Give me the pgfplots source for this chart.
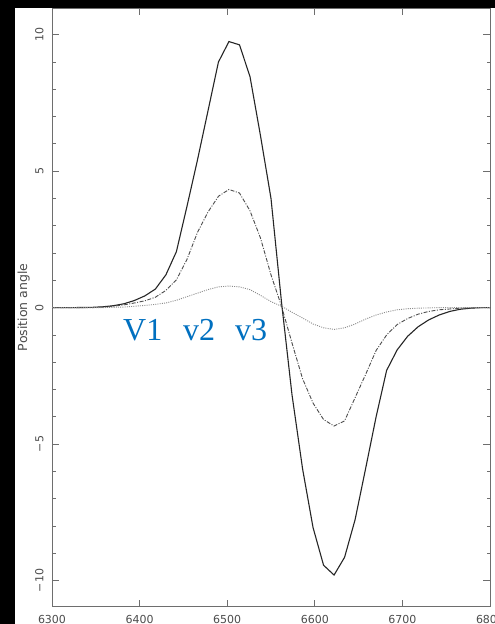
\documentclass[border=0pt]{standalone}
\usepackage{pgfplots}
\pgfplotsset{compat=1.18}
\usepackage{pgfplotstable}
\usepackage{fontspec}
\setmainfont{DejaVu Sans}
\newfontfamily\labelserif{Liberation Serif}
\definecolor{labelblue}{RGB}{0,112,192}
\definecolor{axisgray}{RGB}{110,110,110}

% Position angle against wavelength for the three velocity models
\pgfplotstableread{
x y
6300 0
6322 0
6334 0.005
6346 0.01
6358 0.03
6370 0.07
6382 0.14
6394 0.26
6406 0.43
6418 0.68
6430 1.2
6442 2.05
6454 3.7
6466 5.4
6478 7.2
6490 9.0
6502 9.75
6514 9.63
6526 8.47
6538 6.3
6550 4.0
6562 0.2
6574 -3.2
6586 -5.9
6598 -8.06
6610 -9.44
6622 -9.8
6634 -9.15
6646 -7.77
6658 -5.9
6670 -4.0
6682 -2.3
6694 -1.55
6706 -1.05
6718 -0.7
6730 -0.45
6742 -0.27
6754 -0.14
6766 -0.06
6778 -0.02
6790 0
6800 0
}\vone

\pgfplotstableread{
x y
6300 0
6346 0
6358 0.02
6370 0.05
6382 0.1
6394 0.17
6406 0.25
6418 0.38
6430 0.63
6442 1.02
6454 1.76
6466 2.75
6478 3.5
6490 4.08
6502 4.33
6514 4.2
6526 3.55
6538 2.55
6550 1.2
6562 0.05
6574 -1.3
6586 -2.6
6598 -3.5
6610 -4.1
6622 -4.34
6634 -4.15
6646 -3.3
6658 -2.45
6670 -1.57
6682 -1.0
6694 -0.62
6706 -0.4
6718 -0.24
6730 -0.14
6742 -0.08
6754 -0.05
6766 -0.02
6778 -0.01
6790 0
6800 0
}\vtwo

\pgfplotstableread{
x y
6300 0
6358 0
6370 0.01
6382 0.02
6394 0.05
6406 0.08
6418 0.12
6430 0.17
6442 0.27
6454 0.4
6466 0.53
6478 0.66
6490 0.76
6502 0.79
6514 0.76
6526 0.66
6538 0.45
6550 0.22
6562 0.05
6574 -0.17
6586 -0.38
6598 -0.6
6610 -0.74
6622 -0.8
6634 -0.74
6646 -0.6
6658 -0.42
6670 -0.27
6682 -0.16
6694 -0.08
6706 -0.04
6718 -0.02
6730 -0.01
6742 0
6800 0
}\vthree

\begin{document}
\begin{tikzpicture}[x=1pt,y=1pt]
\useasboundingbox (0,0) rectangle (495,624);
\clip (0,0) rectangle (495,624);
\fill[black] (0,0) rectangle (495,624);
\fill[white] (15,0) rectangle (495,616);
\begin{axis}[
  at={(52pt,17.3pt)}, anchor=south west,
  scale only axis, width=438pt, height=598.7pt,
  xmin=6300, xmax=6800, ymin=-10.96, ymax=10.98,
  xtick={6300,6400,6500,6600,6700,6800},
  xticklabels={6300,6400,6500,6600,6700,6800},
  ytick={-10,-5,0,5,10},
  yticklabels={−10,−5,0,5,10},
  minor ytick={-10,...,10},
  tick align=inside,
  major tick length=7pt, minor tick length=3.5pt,
  axis line style={axisgray, line width=0.9pt},
  every tick/.style={axisgray, line width=0.8pt},
  every minor tick/.style={axisgray, line width=0.8pt},
  tick label style={font=\fontsize{11}{13}\selectfont, text=black!70},
  xticklabel shift=5pt,
  yticklabel shift=5pt,
  yticklabel style={rotate=90, anchor=south},
  ylabel={Position angle},
  ylabel style={font=\fontsize{12.5}{14}\selectfont, text=black!70,
    at={(axis description cs:-0.0502,0.5)}, anchor=south, inner sep=0pt},
]
\addplot[black!85, line width=1.1pt] table {\vone};
\addplot[black!70, line width=0.9pt, dash pattern=on 4pt off 1.5pt on 1pt off 1.5pt] table {\vtwo};
\addplot[black!45, line width=0.9pt, dash pattern=on 1pt off 1.2pt] table {\vthree};
\end{axis}
\begin{scope}[every node/.style={anchor=base west, inner sep=0pt, text=labelblue, font=\labelserif\fontsize{32}{36}\selectfont}]
\node at (123,283) {V1};
\node at (183,283) {v2};
\node at (235,283) {v3};
\end{scope}
\end{tikzpicture}
\end{document}
